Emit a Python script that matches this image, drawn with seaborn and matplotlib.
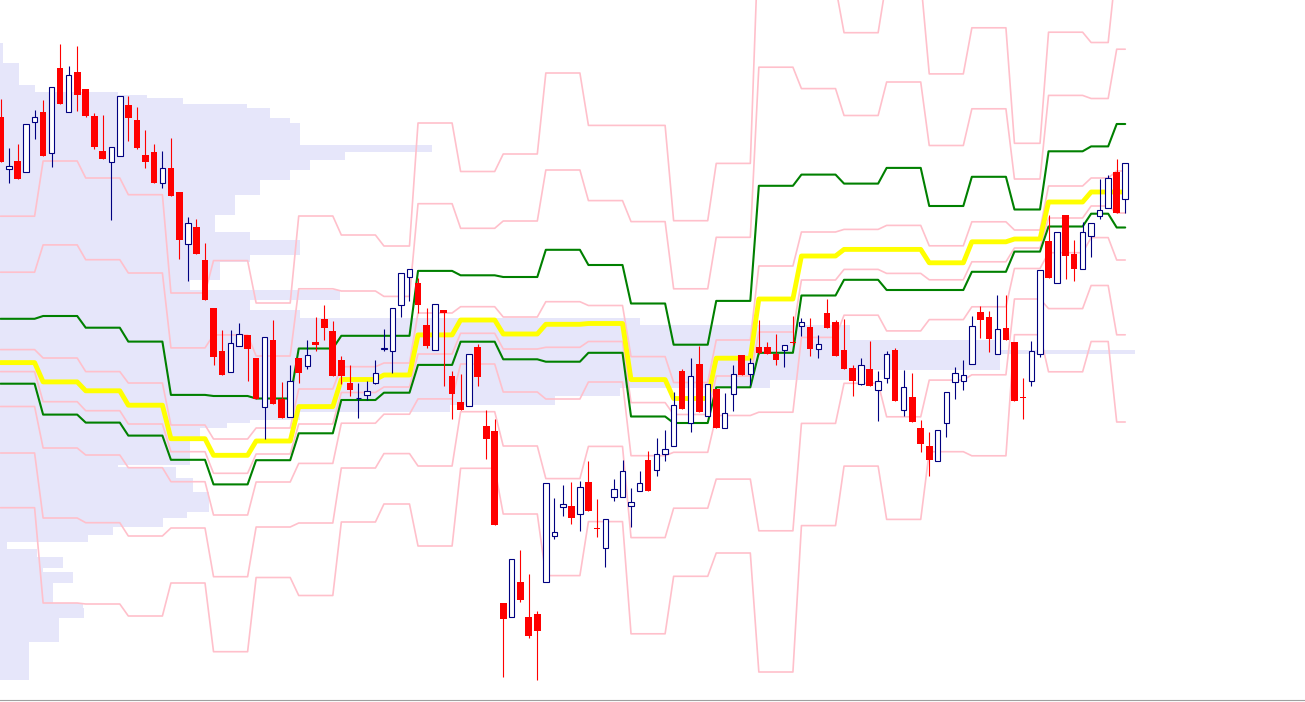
import numpy as np
import matplotlib
matplotlib.use("Agg")
import matplotlib.pyplot as plt
import seaborn as sns

# ---- daily candles (price units) ----
opens = [583, 530.7, 539, 527.7, 577.7, 588, 546.7, 632.3, 587.7, 628,
         611, 584, 549, 537.7, 543.7, 595, 580, 545, 548, 516.7,
         532, 508, 455.7, 473, 440, 392.4, 349, 328.4, 354, 365.1,
         342, 293.5, 360, 300.7, 282.7, 341.7, 334.2, 357.5, 381, 368.7,
         340.5, 317.2, 301.6, 304.7, 317.2, 351.2, 348.6, 394.7, 423.3, 417,
         375.4, 350, 390.2, 324, 298, 294, 353, 273.8, 269, 97,
         83.4, 118, 83.2, 86, 118.5, 164.5, 193.5, 194, 185.8, 218,
         172.3, 151.7, 202.7, 202.7, 194, 209, 240, 230, 245.6, 253.6,
         329.3, 277, 336, 283.6, 311.4, 272.5, 306, 345.4, 326.2, 353,
         353, 346.3, 350, 358, 374.5, 373.2, 350.8, 386.6, 377.7, 350,
         332, 316, 330.6, 309.6, 321.7, 350, 290.4, 302.5, 272.4, 254.5,
         238.9, 277, 318.1, 319.5, 336.5, 388, 383, 346.3, 372, 357.5,
         303, 318.6, 346.3, 459.1, 416.6, 485.1, 445.7, 431.4, 463.6, 483.8,
         491.8, 528.5, 500.8]
highs = [601, 552.3, 556, 575.7, 590, 600, 612.7, 656, 634, 654,
         611, 586.7, 585, 552.7, 604, 604, 593, 570, 556, 549,
         562, 508, 482.7, 480.7, 457, 392.4, 369.6, 369.6, 377.2, 365.1,
         342, 363, 380, 318, 335, 341.7, 360, 383, 394.7, 379.4,
         344, 335, 317.2, 318.6, 340.5, 371, 392, 427, 431.4, 422.4,
         392, 395.6, 390.2, 329.3, 326.2, 346.3, 356.2, 290.4, 281.4, 97,
         140.7, 150, 126.5, 89, 216.6, 202.3, 215, 218, 218.7, 239,
         201, 180.7, 221, 240, 211.7, 229, 249, 262.1, 270, 308.3,
         331.5, 342, 354, 316.3, 311.4, 307, 335, 345.4, 342, 380,
         358, 366.5, 355.3, 384.4, 382.1, 382.1, 365.1, 401, 380, 381.2,
         335.1, 342, 359, 329.3, 348.6, 351.7, 329.8, 327, 280, 268,
         270.2, 307.8, 333, 339.6, 384.4, 394.2, 389, 405.4, 405.4, 357.5,
         321.7, 359, 430, 485.1, 468.1, 485.1, 460.5, 478.4, 477, 521,
         525.4, 541, 536.6]
lows = [538.3, 517.3, 521.3, 527.7, 561.3, 544, 533.3, 596.3, 587.7, 589.3,
        583, 551.3, 541.3, 480.3, 543.7, 559, 551.3, 532.3, 517.3, 512.3,
        504.3, 441, 419.3, 446.3, 399.6, 335.1, 325.3, 328.4, 354, 319.5,
        301.5, 261.3, 296, 282.3, 282.7, 317.3, 330.6, 348.6, 360, 324,
        316.3, 303.8, 282.3, 300.2, 316, 348.6, 327.5, 383, 399.1, 386.6,
        351.7, 350, 314.1, 281.4, 290.4, 294, 314, 241.1, 175.3, 23.5,
        83.4, 98, 62, 20, 118.5, 161, 184.3, 176.5, 169.4, 189.5,
        163.3, 132.7, 199.3, 202.7, 173.3, 209, 209.5, 224, 239, 253.6,
        291.3, 268, 288, 283.6, 272.5, 272.5, 289, 325.3, 315, 346.3,
        346.3, 335.1, 333, 355.3, 364.2, 344.1, 342, 372.3, 344.1, 330.6,
        303.8, 315, 314.1, 279.2, 317.2, 299.3, 284.5, 277.8, 247.8, 224,
        238.9, 263.5, 300.6, 310.5, 336.5, 362, 347.7, 346.3, 359.8, 299.3,
        281.4, 314.1, 343.2, 422.4, 416.6, 421.5, 419, 431.4, 443.5, 481.5,
        491.8, 487.3, 487.3]
closes = [538.3, 534, 521.3, 575.7, 582.7, 544, 612.7, 596.3, 624.7, 605.3,
          584, 553.3, 541.3, 552.7, 604, 582.3, 552.3, 538.3, 517.3, 531.7,
          504.3, 460.3, 476.7, 446.3, 399.6, 343.2, 325.3, 356.6, 366.5, 350.8,
          301.5, 363, 296, 282.3, 318.6, 327.3, 345.4, 355.3, 372.3, 324,
          324, 310.5, 302.5, 309.2, 327, 352.1, 392, 427, 431.4, 394.7,
          354.4, 395.6, 386.6, 306, 290.4, 346.3, 323, 261.3, 175.3, 81.5,
          140.7, 100, 64, 69.4, 216.6, 168, 196, 182.5, 212.8, 189.5,
          170.7, 180.7, 210.7, 229, 197.7, 217.5, 209.5, 246.5, 251, 295,
          291.3, 324, 288, 316.3, 272.5, 287, 326.2, 325.3, 337.4, 347.2,
          346.3, 339.6, 355.3, 357, 377.7, 350.8, 356.2, 372.3, 344.1, 330.6,
          319.5, 335.1, 314.1, 319.5, 346.3, 299.3, 312.7, 277.8, 255.9, 240.2,
          270.2, 307.8, 327, 325, 374.5, 380, 360.6, 371, 359.8, 299.3,
          302, 348.6, 430, 422.4, 468.1, 444, 431.4, 468.1, 477, 489.6,
          522.3, 487.3, 536.6]

# ---- weekly pivot levels (one value per period, candles per period below) ----
period_days = [5, 5, 5, 5, 5, 5, 5, 5, 5, 4, 5, 5, 5, 5, 5, 5, 5, 5, 5,
               5, 5, 5, 5, 5, 4, 5, 3, 2]
pivot = [337.4, 318.1, 309.2, 294.8, 261.3, 244.7, 259, 293.4, 320.5, 325,
         365.1, 380, 366, 375.7, 376.5, 320.4, 301.5, 341.8, 401, 444,
         450.6, 450.6, 437.2, 458.2, 461, 498, 508, 508]
green_hi = [381.2, 384, 372.3, 358.4, 305.1, 304, 301.5, 351.5, 364.2, 364.2,
            429.1, 424.7, 423, 450.2, 435, 396.5, 355.3, 399.1, 514.2, 525.4,
            516.4, 532.1, 494, 523.2, 490.5, 548.7, 553.6, 576]
green_lo = [316.3, 285.4, 277.4, 264.4, 240.2, 215.6, 239.8, 266.7, 300, 307.3,
            335.1, 358.3, 340.7, 338.3, 347.2, 283.5, 277, 312.7, 347.2, 404.5,
            420.2, 410, 410, 428.2, 448.4, 473.5, 486.3, 472.5]
pink_r4 = [483.8, 539, 522, 505.3, 407, 439.4, 397, 484, 465, 454,
           577, 528.5, 546, 627, 574.6, 574.6, 479.3, 536.6, 774, 713.6,
           667.3, 720.6, 626.1, 672.2, 556.7, 667.8, 657.5, 738]
pink_r3 = [427.8, 455.1, 440.3, 427, 352.1, 365.1, 344, 411.2, 409, 403.6,
           496.3, 471.7, 479, 530, 499.4, 478.4, 411.2, 462.7, 632.8, 611.4,
           584.5, 618, 554.5, 591.2, 521, 604.6, 601.5, 650.8]
pink_r1 = [350.4, 342, 328.4, 317, 275, 261, 272, 311, 333.3, 337,
           387, 393.3, 383, 398.3, 394.5, 343.4, 317.5, 360, 434, 468,
           470.6, 474.6, 454.2, 478.2, 470, 514, 522, 529]
pink_s1 = [328.4, 298.3, 289.3, 276, 248.3, 226.7, 246, 276, 307.5, 313,
           346, 366.7, 351, 352.7, 358.5, 297.4, 285.5, 324, 368, 420,
           430.6, 426.6, 420.2, 438.2, 452, 482, 494, 487]
pink_s2 = [293.5, 252, 245, 232.3, 218.3, 185, 218, 236.6, 276.8, 285.8,
           301.1, 336, 308, 301, 318, 244.3, 247.7, 284.5, 287.8, 362.6,
           384.8, 369.1, 380.4, 393.2, 431.5, 447.3, 462.4, 440]
pink_s3 = [247, 182, 177.3, 164, 172, 123.3, 173, 177, 232, 246.4,
           234, 288.3, 254, 221.4, 253.6, 162.4, 191.8, 220.9, 169.2, 276.6,
           316.7, 283.2, 319.9, 325.2, 401, 391.4, 414.5, 365.2]
pink_s4 = [192.3, 97, 96, 84, 117, 48.3, 122.5, 104.5, 178, 196,
           154, 231.7, 186, 124.4, 178.4, 66.2, 123.7, 147, 28, 174.4,
           233.9, 180.6, 248.3, 244.2, 365.3, 328.2, 358.5, 278]

# ---- price profile (bin edges in price, length in candle widths) ----
prof_edges = [657, 637, 615, 608, 605, 602, 596, 592, 582, 577, 555, 548, 540,
              530, 520, 505, 485, 468, 460, 445, 438, 420, 410, 400, 390, 382,
              375, 360, 350, 346, 330, 320, 312, 304, 295, 288, 280, 277, 272,
              263, 235, 233, 222, 208, 188, 182, 173, 165, 158, 151, 143, 132,
              128, 117, 97, 92, 82, 58, 20]
prof_len = [0.4, 2.2, 4.1, 13.9, 17.3, 21.5, 29, 31.7, 34, 35.2,
            50.7, 40.5, 36.4, 34, 30.5, 27.6, 25.2, 29.3, 35.2, 29.3,
            25.8, 22.3, 39.9, 29.3, 35.2, 75.1, 99.8, 117.4, 133.2, 117.4,
            99.8, 90.4, 72.8, 65.1, 52.8, 35.2, 29.3, 26.6, 23.5, 22.3,
            13.9, 20.7, 22.7, 24.5, 22, 19.1, 13.3, 10.3, 0.8, 4.3,
            7.4, 5, 8.6, 6.2, 9.7, 9.9, 6.9, 3.4]

# x-axis tick marks (candle index positions)
tick_pos = [1.3, 4.1, 7.1, 12.9, 18.3, 25.5, 31.9, 37.3, 42.4, 48.5, 53.8,
            60.0, 66.4, 77.4, 82.6, 95.0, 98.1, 101.2, 104.3]

sns.set_style("white")
fig = plt.figure(figsize=(13.05, 7.02), dpi=100)
ax = fig.add_axes([0, 2 / 702, 1, 700 / 702])
x_left = -0.06
ax.set_xlim(x_left, 153.1)
ax.set_ylim(0, 700)

# profile
edges = np.array(prof_edges)
centers = (edges[:-1] + edges[1:]) / 2
heights = edges[:-1] - edges[1:]
ax.barh(centers, prof_len, height=heights, left=x_left, color="#E6E6FA",
        linewidth=0, zorder=1)

# pivot lines
idx = np.arange(len(opens))
def expand(vals):
    return np.repeat(vals, period_days)

for vals in [pink_r4, pink_r3, pink_r1, pink_s1, pink_s2, pink_s3, pink_s4]:
    sns.lineplot(x=idx, y=expand(vals), ax=ax, color="#FFC0CB", linewidth=1.2,
                 zorder=2, legend=False)
for vals in [green_hi, green_lo]:
    sns.lineplot(x=idx, y=expand(vals), ax=ax, color="#008000", linewidth=1.5,
                 zorder=3, legend=False)
sns.lineplot(x=idx, y=expand(pivot), ax=ax, color="#FFFF00", linewidth=3.5,
             zorder=3, legend=False)

# candles
o = np.array(opens)
h = np.array(highs)
l = np.array(lows)
c = np.array(closes)
up = c >= o
wick_col = np.where(up, "#000080", "#FF0000")
ax.vlines(idx, l, h, colors=wick_col, linewidth=0.8, zorder=4)
body_lo = np.minimum(o, c)
body_h = np.maximum(np.abs(c - o), 0.9)
ax.bar(idx[up], body_h[up], bottom=body_lo[up], width=0.64, color="white",
       edgecolor="#000080", linewidth=0.8, zorder=5)
ax.bar(idx[~up], body_h[~up], bottom=body_lo[~up], width=0.78, color="#FF0000",
       linewidth=0, zorder=5)

# axes styling
for side in ["top", "left", "right"]:
    ax.spines[side].set_visible(False)
ax.spines["bottom"].set_color("#A0A0A0")
ax.spines["bottom"].set_linewidth(0.8)
ax.set_xticks(tick_pos)
ax.set_xticklabels([])
ax.set_yticks([])
ax.tick_params(axis="x", direction="in", length=3, color="#A0A0A0", width=0.8)
ax.set_xlabel("")
ax.set_ylabel("")

fig.savefig("out.png", dpi=100)
